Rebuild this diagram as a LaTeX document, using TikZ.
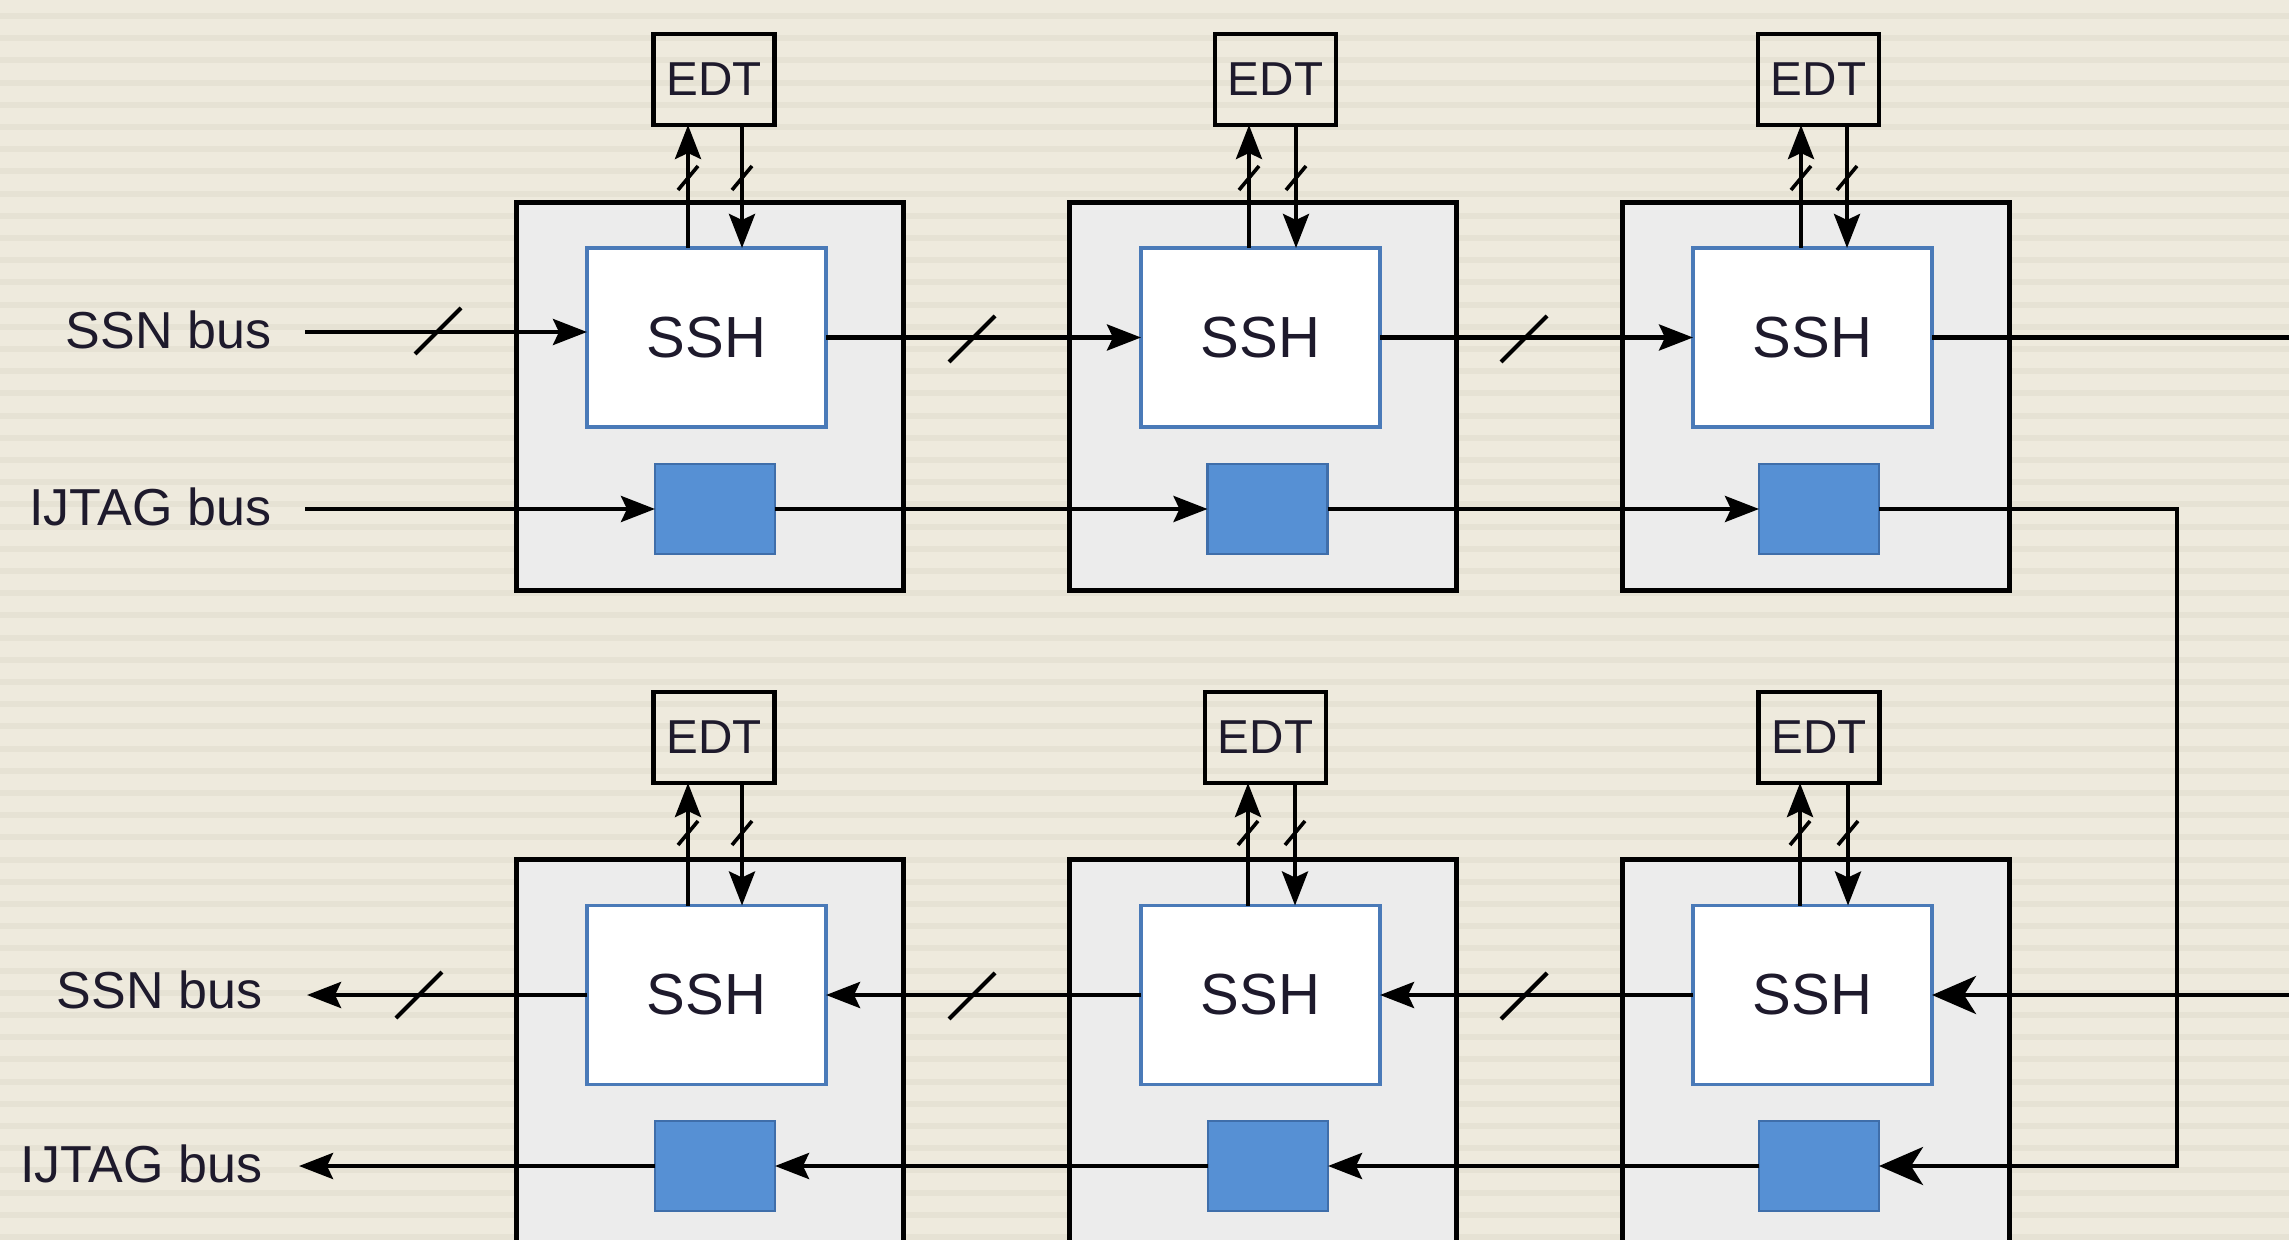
\documentclass[tikz,border=0pt]{standalone}
\usepackage{fontspec}
\setmainfont{Liberation Sans}
\usetikzlibrary{arrows.meta,calc}
\definecolor{bgc}{HTML}{EEEADD}
\definecolor{stripec}{HTML}{E6E2D4}
\definecolor{outerfill}{HTML}{ECECEC}
\definecolor{sshline}{HTML}{4A7AB8}
\definecolor{ijfill}{HTML}{5690D4}
\definecolor{ijline}{HTML}{3F6EAA}
\definecolor{txt}{HTML}{1E1A2C}
\begin{document}
\begin{tikzpicture}[x=0.25pt,y=-0.25pt,
  outerbox/.style={draw=black,line width=1.25pt,fill=outerfill,minimum width=96.75pt,minimum height=96.75pt,inner sep=0pt,outer sep=0pt},
  sshbox/.style={draw=sshline,line width=0.9pt,fill=white,minimum width=59.75pt,minimum height=44.75pt,inner sep=0pt,outer sep=0pt,text=txt,font=\fontsize{14.5}{17}\selectfont},
  ijbox/.style={draw=ijline,line width=0.6pt,fill=ijfill,minimum width=30pt,minimum height=22.5pt,inner sep=0pt,outer sep=0pt},
  edtbox/.style={draw=black,line width=1.1pt,minimum width=30.25pt,minimum height=22.75pt,inner sep=0pt,outer sep=0pt,text=txt,font=\fontsize{11.9}{14}\selectfont},
  lbl/.style={inner sep=0pt,text=txt,font=\fontsize{13}{15}\selectfont},
  wire/.style={draw=black,line width=1.05pt},
  arr/.style={-{Stealth[length=8.5pt,width=6.5pt,inset=1.5pt]}},
  bigarr/.style={-{Stealth[length=11pt,width=9.5pt,inset=3pt]}},
  bigslash/.pic={\draw[line width=1.05pt] (-23,23) -- (23,-23);},
  smallslash/.pic={\draw[line width=0.9pt] (-10,12) -- (10,-12);}
]
\useasboundingbox (0,0) rectangle (2289,1240);
\clip (0,0) rectangle (2289,1240);
% background
\fill[bgc] (0,0) rectangle (2289,1240);
\foreach \i in {0,...,56} {\fill[stripec] (0,{13+\i*22.2}) rectangle (2289,{19+\i*22.2});}

% outer boxes
\node[outerbox] (o1t) at (709.5,396.5) {};
\node[outerbox] (o2t) at (1262.5,396.5) {};
\node[outerbox] (o3t) at (1816,396.5) {};
\node[outerbox] (o1b) at (710,1052.5) {};
\node[outerbox] (o2b) at (1262.5,1052.5) {};
\node[outerbox] (o3b) at (1816,1052.5) {};

% SSH boxes
\node[sshbox] (s1t) at (706.5,337.5) {SSH};
\node[sshbox] (s2t) at (1260.5,337.5) {SSH};
\node[sshbox] (s3t) at (1812.5,337.5) {SSH};
\node[sshbox] (s1b) at (706.5,995) {SSH};
\node[sshbox] (s2b) at (1260.5,995) {SSH};
\node[sshbox] (s3b) at (1812.5,995) {SSH};

% IJTAG boxes
\node[ijbox] (b1t) at (715,509) {};
\node[ijbox] (b2t) at (1267.5,509) {};
\node[ijbox] (b3t) at (1819,509) {};
\node[ijbox] (b1b) at (715,1166) {};
\node[ijbox] (b2b) at (1268,1166) {};
\node[ijbox] (b3b) at (1819,1166) {};

% EDT boxes
\node[edtbox] (e1t) at (714,79.5) {EDT};
\node[edtbox] (e2t) at (1275.5,79.5) {EDT};
\node[edtbox] (e3t) at (1818.5,79.5) {EDT};
\node[edtbox] (e1b) at (714,737.5) {EDT};
\node[edtbox] (e2b) at (1265.5,737.5) {EDT};
\node[edtbox] (e3b) at (1819,737.5) {EDT};

% labels
\node[lbl,anchor=east] (l1) at (272,330) {SSN bus};
\node[lbl,anchor=east] (l2) at (272,507) {IJTAG bus};
\node[lbl,anchor=east] (l3) at (263,990) {SSN bus};
\node[lbl,anchor=east] (l4) at (263,1164) {IJTAG bus};

% free ends
\coordinate (ssnin) at (305,332);
\coordinate (ijin) at (305,509);
\coordinate (ssnout) at (307,995);
\coordinate (ijout) at (299,1166);
\coordinate (edge) at (2295,0);
\coordinate (turn) at (2177,0);

% top row connectors
\draw[wire,arr] (ssnin) -- (ssnin -| s1t.west);
\draw[wire,arr] (s1t.east) -- (s2t.west);
\draw[wire,arr] (s2t.east) -- (s3t.west);
\draw[wire] (s3t.east) -- (s3t.east -| edge);
\draw[wire,arr] (ijin) -- (b1t.west);
\draw[wire,arr] (b1t.east) -- (b2t.west);
\draw[wire,arr] (b2t.east) -- (b3t.west);
\draw[wire,bigarr] (b3t.east) -- (b3t.east -| turn) |- (b3b.east);

% bottom row connectors
\draw[wire,bigarr] (s3b.east -| edge) -- (s3b.east);
\draw[wire,arr] (s3b.west) -- (s2b.east);
\draw[wire,arr] (s2b.west) -- (s1b.east);
\draw[wire,arr] (s1b.west) -- (ssnout);
\draw[wire,arr] (b3b.west) -- (b2b.east);
\draw[wire,arr] (b2b.west) -- (b1b.east);
\draw[wire,arr] (b1b.west) -- (ijout);

% EDT links
\coordinate (u1t) at (688,0);  \coordinate (d1t) at (742,0);
\coordinate (u2t) at (1249,0); \coordinate (d2t) at (1296,0);
\coordinate (u3t) at (1801,0); \coordinate (d3t) at (1847,0);
\coordinate (u1b) at (688,0);  \coordinate (d1b) at (742,0);
\coordinate (u2b) at (1248,0); \coordinate (d2b) at (1295,0);
\coordinate (u3b) at (1800,0); \coordinate (d3b) at (1848,0);
\foreach \c/\r in {1/t,2/t,3/t,1/b,2/b,3/b}{
  \draw[wire,arr] (u\c\r |- s\c\r.north) -- (u\c\r |- e\c\r.south);
  \draw[wire,arr] (d\c\r |- e\c\r.south) -- (d\c\r |- s\c\r.north);
}

% bus marks
\pic at (438,331) {bigslash};
\pic at (972,339) {bigslash};
\pic at (1524,339) {bigslash};
\pic at (419,995) {bigslash};
\pic at (972,996) {bigslash};
\pic at (1524,996) {bigslash};
\foreach \x in {688,742,1249,1296,1801,1847}{\pic at (\x,178) {smallslash};}
\foreach \x in {688,742,1248,1295,1800,1848}{\pic at (\x,833) {smallslash};}
\end{tikzpicture}
\end{document}
